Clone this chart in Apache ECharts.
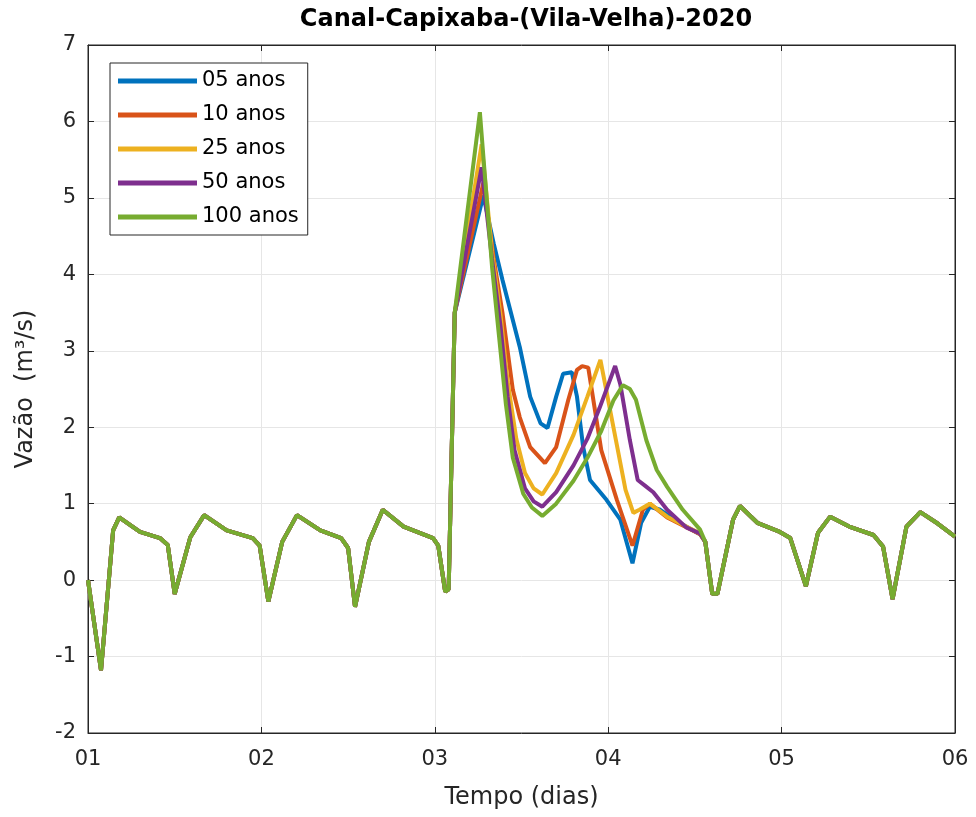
<!DOCTYPE html>
<html>
<head>
<meta charset="utf-8">
<script src="https://cdn.jsdelivr.net/npm/echarts@6/dist/echarts.min.js"></script>
<style>html,body{margin:0;padding:0;background:#fff}#c{width:976px;height:817px}</style>
</head>
<body>
<div id="c"></div>
<script>
// ---- data (x in days, y in m³/s) ----
const seriesNames = ['05 anos', '10 anos', '25 anos', '50 anos', '100 anos'];
const seriesColors = ['#0072BD', '#D95319', '#EDB120', '#7E2F8E', '#77AC30'];
const xTicks = [1, 2, 3, 4, 5, 6];
const yTicks = [-2, -1, 0, 1, 2, 3, 4, 5, 6, 7];

// shared tidal signal before the storm
const tideBefore = [
  [1.0, 0.0], [1.075, -1.18], [1.145, 0.65], [1.18, 0.82], [1.30, 0.63], [1.415, 0.55],
  [1.46, 0.46], [1.50, -0.18], [1.59, 0.56], [1.67, 0.85], [1.80, 0.65], [1.95, 0.55],
  [1.99, 0.45], [2.04, -0.28], [2.12, 0.5], [2.205, 0.85], [2.34, 0.65], [2.46, 0.55],
  [2.50, 0.42], [2.54, -0.35], [2.62, 0.5], [2.70, 0.92], [2.82, 0.7], [2.99, 0.55],
  [3.02, 0.45], [3.06, -0.15], [3.08, -0.12], [3.115, 3.5]
];
// shared tidal signal after the storm
const tideAfter = [
  [4.56, 0.5], [4.60, -0.18], [4.63, -0.18], [4.72, 0.79], [4.76, 0.97], [4.86, 0.75],
  [4.99, 0.63], [5.05, 0.55], [5.14, -0.08], [5.21, 0.62], [5.28, 0.83], [5.39, 0.7],
  [5.53, 0.59], [5.585, 0.44], [5.64, -0.25], [5.72, 0.7], [5.80, 0.89], [5.90, 0.74],
  [6.0, 0.57]
];
// storm response of each return period
const storm05 = [
  [3.28, 5.03], [3.34, 4.4], [3.39, 3.93], [3.49, 3.05], [3.55, 2.4], [3.61, 2.05],
  [3.65, 1.99], [3.70, 2.4], [3.74, 2.7], [3.79, 2.72], [3.82, 2.4], [3.855, 1.75],
  [3.895, 1.31], [3.99, 1.05], [4.07, 0.79], [4.14, 0.22], [4.19, 0.75], [4.24, 0.96],
  [4.30, 0.92], [4.41, 0.75], [4.53, 0.6]
];
const storm10 = [
  [3.28, 5.2], [3.34, 4.2], [3.39, 3.5], [3.45, 2.49], [3.49, 2.13], [3.55, 1.74],
  [3.635, 1.53], [3.70, 1.74], [3.77, 2.36], [3.82, 2.75], [3.85, 2.8], [3.885, 2.78],
  [3.96, 1.7], [4.05, 1.05], [4.14, 0.45], [4.20, 0.92], [4.24, 1.0], [4.34, 0.82],
  [4.53, 0.6]
];
const storm25 = [
  [3.27, 5.7], [3.33, 4.3], [3.38, 3.45], [3.42, 2.6], [3.47, 1.85], [3.52, 1.4],
  [3.57, 1.2], [3.62, 1.12], [3.70, 1.4], [3.80, 1.9], [3.88, 2.4], [3.955, 2.88],
  [4.03, 2.0], [4.10, 1.18], [4.145, 0.88], [4.18, 0.92], [4.24, 1.0], [4.34, 0.83],
  [4.53, 0.61]
];
const storm50 = [
  [3.27, 5.4], [3.33, 4.2], [3.38, 3.3], [3.42, 2.4], [3.46, 1.7], [3.52, 1.2],
  [3.57, 1.03], [3.62, 0.96], [3.70, 1.15], [3.80, 1.5], [3.88, 1.85], [3.95, 2.25],
  [4.04, 2.8], [4.07, 2.56], [4.125, 1.83], [4.17, 1.31], [4.21, 1.24], [4.26, 1.15],
  [4.34, 0.92], [4.45, 0.69], [4.53, 0.61]
];
const storm100 = [
  [3.26, 6.12], [3.33, 4.1], [3.37, 3.2], [3.41, 2.3], [3.45, 1.6], [3.51, 1.13],
  [3.56, 0.95], [3.62, 0.84], [3.70, 1.0], [3.80, 1.3], [3.88, 1.6], [3.96, 1.95],
  [4.03, 2.35], [4.085, 2.55], [4.125, 2.5], [4.16, 2.36], [4.22, 1.83], [4.28, 1.44],
  [4.34, 1.22], [4.43, 0.92], [4.53, 0.66]
];
const storms = [storm05, storm10, storm25, storm50, storm100];

// ---- chart ----
const font = 'DejaVu Sans, Liberation Sans, Arial, sans-serif';
const chart = echarts.init(document.getElementById('c'), null, { renderer: 'canvas' });
const axisColor = '#262626';

const series = seriesNames.map((name, i) => ({
  name: name,
  type: 'line',
  data: tideBefore.concat(storms[i], tideAfter),
  showSymbol: false,
  smooth: false,
  lineStyle: { color: seriesColors[i], width: 4 },
  itemStyle: { color: seriesColors[i] },
  emphasis: { disabled: true },
  animation: false,
  z: 2 + i
}));

const boxAxis = {
  axisLine: { show: true, onZero: false, lineStyle: { color: axisColor } },
  axisTick: { show: true, inside: true, length: 6, lineStyle: { color: axisColor } },
  axisLabel: { show: false }, splitLine: { show: false }
};

chart.setOption({
  animation: false,
  backgroundColor: '#ffffff',
  title: {
    text: 'Canal-Capixaba-(Vila-Velha)-2020',
    left: 521, top: 3, textAlign: 'center',
    textStyle: { fontFamily: font, fontSize: 24, fontWeight: 'bold', color: '#000' }
  },
  legend: {
    data: seriesNames,
    orient: 'vertical',
    left: 110, top: 63,
    icon: 'rect',
    itemWidth: 79, itemHeight: 5,
    itemGap: 12,
    padding: [7, 9, 7, 8],
    backgroundColor: '#ffffff',
    borderColor: '#262626', borderWidth: 1,
    textStyle: { fontFamily: font, fontSize: 21, color: '#000', lineHeight: 22 }
  },
  grid: {
    left: 88, right: 21, top: 45, bottom: 84,
    show: true, borderColor: axisColor, borderWidth: 1, backgroundColor: '#fff'
  },
  xAxis: [{
    type: 'value', min: 1, max: 6, interval: 1,
    name: 'Tempo (dias)', nameLocation: 'middle', nameGap: 53,
    nameTextStyle: { fontFamily: font, fontSize: 24, color: '#262626' },
    axisLine: { show: true, onZero: false, lineStyle: { color: axisColor } },
    axisTick: { show: true, inside: true, length: 6, lineStyle: { color: axisColor } },
    axisLabel: { fontFamily: font, fontSize: 21, color: '#262626', margin: 16,
      formatter: v => (v < 10 ? '0' : '') + v },
    splitLine: { show: true, lineStyle: { color: '#e6e6e6', width: 1 } }
  }, Object.assign({ type: 'value', min: 1, max: 6, interval: 1, position: 'top' }, boxAxis)],
  yAxis: [{
    type: 'value', min: -2, max: 7, interval: 1,
    name: 'Vazão  (m³/s)', nameLocation: 'middle', nameGap: 50,
    nameTextStyle: { fontFamily: font, fontSize: 24, color: '#262626' },
    axisLine: { show: true, onZero: false, lineStyle: { color: axisColor } },
    axisTick: { show: true, inside: true, length: 6, lineStyle: { color: axisColor } },
    axisLabel: { fontFamily: font, fontSize: 21, color: '#262626', margin: 12 },
    splitLine: { show: true, lineStyle: { color: '#e6e6e6', width: 1 } }
  }, Object.assign({ type: 'value', min: -2, max: 7, interval: 1, position: 'right' }, boxAxis)],
  series: series
});
</script>
</body>
</html>
